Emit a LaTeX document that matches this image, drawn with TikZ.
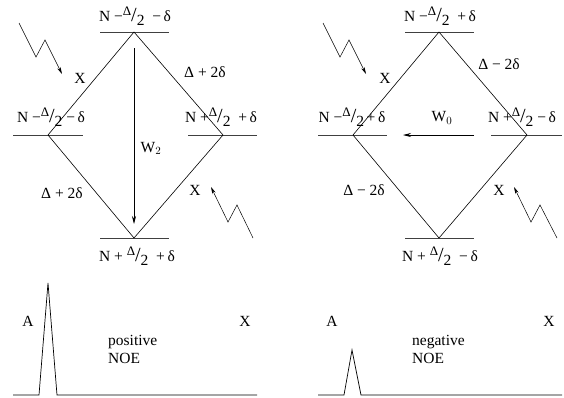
\documentclass[tikz,border=0pt]{standalone}
\usepackage{fontspec}
\setmainfont{Liberation Serif}
\usetikzlibrary{arrows.meta}
\newcommand{\hD}{\raisebox{0.36em}{\fontsize{13}{13}\selectfont Δ}{\fontsize{20}{20}\selectfont /}\raisebox{-0.25em}{2}}
\begin{document}
\begin{tikzpicture}[x=1pt,y=-1pt,
  lvl/.style={line width=0.8pt,black!75},
  edge/.style={line width=0.6pt},
  tx/.style={inner sep=0pt,font=\fontsize{15.5}{18}\selectfont},
  lab/.style={inner sep=0pt,font=\fontsize{15.5}{18}\selectfont},
  arr/.style={line width=0.7pt,-{Stealth[length=8pt,width=4pt]}},
  zig/.style={line width=0.5pt,-{Stealth[length=7pt,width=3.5pt]}},
  spec/.style={line width=0.7pt}]
\useasboundingbox (0,0) rectangle (564,397);
% ---------- left diagram ----------
\coordinate (LT) at (134,32);
\coordinate (LL) at (48,135);
\coordinate (LR) at (223,135);
\coordinate (LB) at (134,238);
\draw[lvl] (100,32) -- (169,32);
\draw[lvl] (13,135) -- (83,135);
\draw[lvl] (188,135) -- (257,135);
\draw[lvl] (100,238) -- (169,238);
\draw[edge] (LT) -- (LL) -- (LB) -- (LR) -- cycle;
\coordinate (W2a) at (134,48);
\coordinate (W2b) at (134,224);
\draw[arr] (W2a) -- (W2b);
\node[tx] (w2) at (151,148) {W$_2$};
\node[lab] (lt) at (135,16) {N −\hD\ \ −\,δ};
\node[lab] (ll) at (51,117) {N −\hD\ −\,δ};
\node[lab] (lr) at (221,117) {N +\hD\ \ +\,δ};
\node[lab] (lb) at (137,256) {N + \hD\ \ +\,δ};
\node[tx] (e1) at (80,78) {X};
\node[tx] (e2) at (205,72) {Δ + 2δ};
\node[tx] (e3) at (62,193) {Δ + 2δ};
\node[tx] (e4) at (195,190) {X};
\coordinate (z1a) at (19,23); \coordinate (z1b) at (36,57); \coordinate (z1c) at (45,40); \coordinate (z1d) at (62,74);
\draw[zig] (z1a) -- (z1b) -- (z1c) -- (z1d);
\coordinate (z2a) at (253,238); \coordinate (z2b) at (237,205); \coordinate (z2c) at (228,222); \coordinate (z2d) at (211,187);
\draw[zig] (z2a) -- (z2b) -- (z2c) -- (z2d);
% ---------- right diagram ----------
\coordinate (RT) at (439,32);
\coordinate (RL) at (353,135);
\coordinate (RR) at (527,135);
\coordinate (RB) at (439,238);
\draw[lvl] (405,32) -- (474,32);
\draw[lvl] (318,135) -- (387,135);
\draw[lvl] (491,135) -- (562,135);
\draw[lvl] (405,238) -- (474,238);
\draw[edge] (RT) -- (RL) -- (RB) -- (RR) -- cycle;
\coordinate (W0a) at (474,135);
\coordinate (W0b) at (403,135);
\draw[arr] (W0a) -- (W0b);
\node[tx] (w0) at (442,118) {W$_0$};
\node[lab] (rt) at (440,16) {N −\hD\ \ +\,δ};
\node[lab] (rl) at (352,117) {N −\hD\,+\,δ};
\node[lab] (rr) at (522,117) {N +\hD\ −\,δ};
\node[lab] (rb) at (440,256) {N + \hD\ \ −\,δ};
\node[tx] (f1) at (385,78) {X};
\node[tx] (f2) at (499,64) {Δ − 2δ};
\node[tx] (f3) at (364,190) {Δ − 2δ};
\node[tx] (f4) at (499,190) {X};
\coordinate (y1a) at (323,23); \coordinate (y1b) at (340,57); \coordinate (y1c) at (349,40); \coordinate (y1d) at (366,74);
\draw[zig] (y1a) -- (y1b) -- (y1c) -- (y1d);
\coordinate (y2a) at (557,238); \coordinate (y2b) at (540,205); \coordinate (y2c) at (531,222); \coordinate (y2d) at (514,187);
\draw[zig] (y2a) -- (y2b) -- (y2c) -- (y2d);
% ---------- spectra ----------
\coordinate (s1a) at (13,395); \coordinate (s1b) at (39,395); \coordinate (s1c) at (48,283); \coordinate (s1d) at (57,395); \coordinate (s1e) at (257,395);
\draw[spec] (s1a) -- (s1b) -- (s1c) -- (s1d) -- (s1e);
\node[tx] (a1) at (28,321) {A};
\node[tx] (x1) at (245,321) {X};
\node[tx,anchor=west,align=left] (p1) at (108,349) {positive\\NOE};
\coordinate (s2a) at (318,395); \coordinate (s2b) at (344,395); \coordinate (s2c) at (352,350); \coordinate (s2d) at (361,395); \coordinate (s2e) at (562,395);
\draw[spec] (s2a) -- (s2b) -- (s2c) -- (s2d) -- (s2e);
\node[tx] (a2) at (332,321) {A};
\node[tx] (x2) at (549,321) {X};
\node[tx,anchor=west,align=left] (p2) at (412,349) {negative\\NOE};
\end{tikzpicture}
\end{document}
